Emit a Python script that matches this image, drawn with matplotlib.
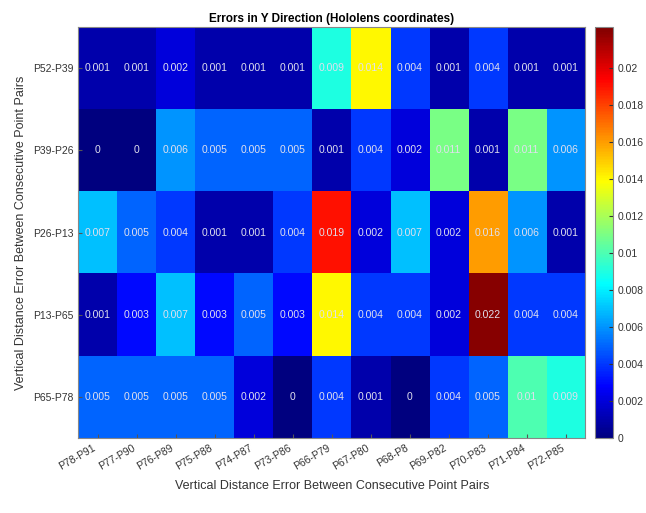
import numpy as np
import matplotlib.pyplot as plt
from matplotlib.colors import LinearSegmentedColormap

plt.rcParams['font.family'] = ['Liberation Sans', 'DejaVu Sans']

# column / row labels of the heatmap
col_labels = ['P78-P91', 'P77-P90', 'P76-P89', 'P75-P88', 'P74-P87', 'P73-P86',
              'P66-P79', 'P67-P80', 'P68-P8', 'P69-P82', 'P70-P83', 'P71-P84', 'P72-P85']
row_labels = ['P52-P39', 'P39-P26', 'P26-P13', 'P13-P65', 'P65-P78']

# errors per row
row_p52_p39 = [0.001, 0.001, 0.002, 0.001, 0.001, 0.001, 0.009, 0.014, 0.004, 0.001, 0.004, 0.001, 0.001]
row_p39_p26 = [0, 0, 0.006, 0.005, 0.005, 0.005, 0.001, 0.004, 0.002, 0.011, 0.001, 0.011, 0.006]
row_p26_p13 = [0.007, 0.005, 0.004, 0.001, 0.001, 0.004, 0.019, 0.002, 0.007, 0.002, 0.016, 0.006, 0.001]
row_p13_p65 = [0.001, 0.003, 0.007, 0.003, 0.005, 0.003, 0.014, 0.004, 0.004, 0.002, 0.022, 0.004, 0.004]
row_p65_p78 = [0.005, 0.005, 0.005, 0.005, 0.002, 0, 0.004, 0.001, 0, 0.004, 0.005, 0.01, 0.009]

data = np.array([row_p52_p39, row_p39_p26, row_p26_p13, row_p13_p65, row_p65_p78])

# MATLAB style jet
matlab_jet = LinearSegmentedColormap('matlab_jet', {
    'red':   [(0, 0, 0), (0.375, 0, 0), (0.625, 1, 1), (0.875, 1, 1), (1, 0.5, 0.5)],
    'green': [(0, 0, 0), (0.125, 0, 0), (0.375, 1, 1), (0.625, 1, 1), (0.875, 0, 0), (1, 0, 0)],
    'blue':  [(0, 0.5, 0.5), (0.125, 1, 1), (0.375, 1, 1), (0.625, 0, 0), (1, 0, 0)],
}, N=256)

fig = plt.figure(figsize=(6.46, 5.13), dpi=100)
ax = fig.add_axes([0.121, 0.146, 0.785, 0.801])
cax = fig.add_axes([0.921, 0.146, 0.028, 0.801])

im = ax.imshow(data, cmap=matlab_jet, vmin=0, vmax=0.0222, aspect='auto')

for i in range(data.shape[0]):
    for j in range(data.shape[1]):
        ax.text(j, i, f"{data[i, j]:g}", ha='center', va='center',
                color='#e0e0ee', fontsize=7.5)

ax.set_xticks(range(len(col_labels)))
ax.set_xticklabels(col_labels, rotation=30, ha='right', fontsize=7.5, color='#333333')
ax.set_yticks(range(len(row_labels)))
ax.set_yticklabels(row_labels, fontsize=7.5, color='#333333')
ax.tick_params(direction='in', length=3, color='#555555')
for s in ax.spines.values():
    s.set_color('#888888')

ax.set_title('Errors in Y Direction (Hololens coordinates)', fontsize=8.5,
             fontweight='bold', pad=4)
ax.set_xlabel('Vertical Distance Error Between Consecutive Point Pairs', fontsize=9,
              color='#333333', labelpad=6)
ax.set_ylabel('Vertical Distance Error Between Consecutive Point Pairs', fontsize=9,
              color='#333333')

cb = fig.colorbar(im, cax=cax)
cb.set_ticks(np.arange(0, 0.0201, 0.002))
cb.set_ticklabels([f"{t:g}" for t in np.arange(0, 0.0201, 0.002).round(3)])
cb.ax.tick_params(labelsize=7.5, direction='in', length=3, colors='#333333')
cb.outline.set_edgecolor('#888888')

fig.savefig('out.png', dpi=100)
